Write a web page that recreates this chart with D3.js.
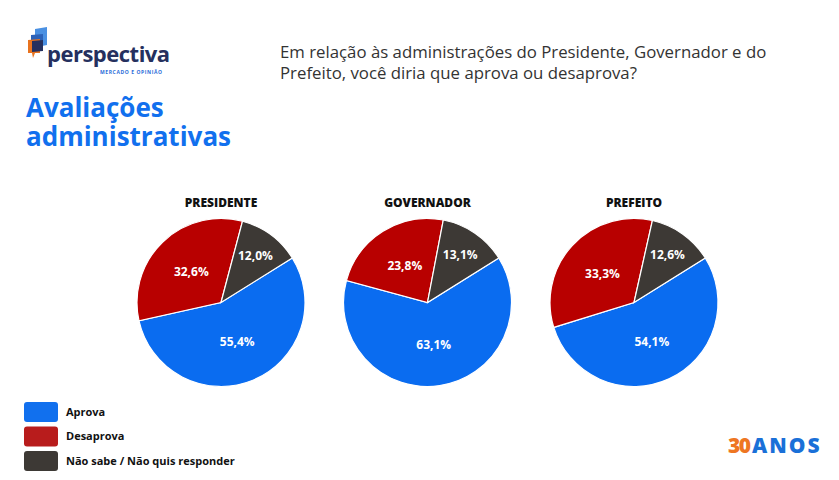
<!DOCTYPE html>
<html>
<head>
<meta charset="utf-8">
<script src="https://cdn.jsdelivr.net/npm/d3@7"></script>
<style>
  body { margin: 0; background: #fff; }
  svg { display: block; }
</style>
</head>
<body>
<svg id="chart"></svg>
<script>
const w = 839,
h = 480;

// data
const offices = ["PRESIDENTE", "GOVERNADOR", "PREFEITO"];
const categories = ["Aprova", "Desaprova", "Não sabe / Não quis responder"];
const aprova = [55.4, 63.1, 54.1];
const desaprova = [32.6, 23.8, 33.3];
const naoSabe = [12.0, 13.1, 12.6];
const questionLines = [
  "Em relação às administrações do Presidente, Governador e do",
  "Prefeito, você diria que aprova ou desaprova?"
];
const titleLines = ["Avaliações", "administrativas"];

const svg = d3.select("#chart")
  .attr("width", w)
  .attr("height", h)

const sliceColor = d3.scaleOrdinal(categories, ["#0A6CF0", "#B80000", "#3D3935"]);
const legendColor = d3.scaleOrdinal(categories, ["#1170EE", "#B81C1C", "#3D3935"]);

const br = d3.formatLocale({decimal: ",", thousands: ".", grouping: [3], currency: ["R$", ""]});
const pct = v => br.format(".1f")(v) + "%";

// pie centres
const x = d3.scalePoint().domain(offices).range([221, 634]);
const cy = 302.5, r = 84;

const pie = d3.pie()
  .sort(null)
  .value(d => d.value)
  .startAngle(58 * Math.PI / 180)
  .endAngle(58 * Math.PI / 180 + 2 * Math.PI);

const arc = d3.arc().innerRadius(0).outerRadius(r);

offices.forEach((office, i) => {
  const rows = [
    {cat: categories[0], value: aprova[i]},
    {cat: categories[1], value: desaprova[i]},
    {cat: categories[2], value: naoSabe[i]}
  ];
  const g = svg.append("g").attr("transform", `translate(${x(office)},${cy})`);

  g.selectAll("path")
    .data(pie(rows))
    .enter()
    .append("path")
      .attr("d", arc)
      .attr("fill", d => sliceColor(d.data.cat))
      .attr("stroke", "#fff")
      .attr("stroke-width", 1.2);

  // small slice label sits further out
  g.selectAll("text.val")
    .data(pie(rows))
    .enter()
    .append("text")
      .attr("class", "val")
      .attr("transform", d => {
        const k = d.index == 2 ? 0.69 : 0.51;
        const c = d3.arc().innerRadius(r * k).outerRadius(r * k).centroid(d);
        return `translate(${c})`;
      })
      .attr("text-anchor", "middle")
      .attr("dy", "0.35em")
      .style("font-family", "'Open Sans', sans-serif")
      .style("font-weight", 700)
      .style("font-size", "12px")
      .style("fill", "#fff")
      .text(d => pct(d.data.value));

  svg.append("text")
    .attr("x", x(office))
    .attr("y", 206.5)
    .attr("text-anchor", "middle")
    .style("font-family", "'Open Sans', sans-serif")
    .style("font-weight", 800)
    .style("font-size", "12px")
    .style("fill", "#111")
    .text(office);
});

// title (one text, two lines)
svg.append("text")
  .attr("x", 26)
  .attr("y", 117)
  .style("font-family", "'Open Sans', sans-serif")
  .style("font-weight", 700)
  .style("font-size", "26px")
  .style("fill", "#1170EE")
  .selectAll("tspan")
  .data(titleLines)
  .enter()
  .append("tspan")
    .attr("x", 26)
    .attr("dy", (d, i) => i == 0 ? 0 : 28.5)
    .text(d => d);

// question
svg.selectAll("text.q")
  .data(questionLines)
  .enter()
  .append("text")
    .attr("class", "q")
    .attr("x", 280)
    .attr("y", (d, i) => 58 + i * 21)
    .style("font-family", "'Open Sans', sans-serif")
    .style("font-size", "16.8px")
    .style("fill", "#333")
    .text(d => d);

// legend
const leg = svg.selectAll("g.leg")
  .data(categories)
  .enter()
  .append("g")
    .attr("class", "leg")
    .attr("transform", (d, i) => `translate(24,${402 + i * 24.5})`);

leg.append("rect")
  .attr("width", 34)
  .attr("height", 20)
  .attr("rx", 3)
  .attr("fill", d => legendColor(d));

leg.append("text")
  .attr("x", 42)
  .attr("y", 10)
  .attr("dy", "0.35em")
  .style("font-family", "'Open Sans', sans-serif")
  .style("font-weight", 700)
  .style("font-size", "11px")
  .style("fill", "#111")
  .text(d => d);

// perspectiva logo
const logo = svg.append("g");
logo.append("path").attr("d", "M35,29 L47,27 L47,45 L42,46 L42,50 L39,46 L35,46 Z").attr("fill", "#4A90E2");
logo.append("path").attr("d", "M31,35 L43,34 L43,49 L31,50 Z").attr("fill", "#2C62B8");
logo.append("path").attr("d", "M28,40 L40,39 L40,53 L35,53 L33,58 L32,53 L28,53 Z").attr("fill", "#E8731F");
logo.append("path").attr("d", "M32,41 L43,40 L43,51 L32,52 Z").attr("fill", "#25305E");
logo.append("text")
  .attr("x", 47)
  .attr("y", 62)
  .style("font-family", "'Open Sans', sans-serif")
  .style("font-weight", 700)
  .style("font-size", "22px")
  .style("letter-spacing", "-0.5px")
  .style("fill", "#25305E")
  .text("perspectiva");
logo.append("text")
  .attr("x", 100)
  .attr("y", 73.5)
  .style("font-family", "'Open Sans', sans-serif")
  .style("font-weight", 700)
  .style("font-size", "5px")
  .style("letter-spacing", "0.6px")
  .style("fill", "#2A6DD9")
  .text("MERCADO E OPINIÃO");

// 30 anos badge
svg.append("text")
  .attr("x", 728)
  .attr("y", 453)
  .style("font-family", "'Open Sans', sans-serif")
  .style("font-weight", 800)
  .style("font-size", "21px")
  .style("letter-spacing", "-1.5px")
  .style("fill", "#EE7622")
  .text("30");
svg.append("text")
  .attr("x", 752)
  .attr("y", 453)
  .style("font-family", "'Open Sans', sans-serif")
  .style("font-weight", 800)
  .style("font-size", "21px")
  .style("letter-spacing", "2px")
  .style("fill", "#1A70D8")
  .text("ANOS");
</script>
</body>
</html>
